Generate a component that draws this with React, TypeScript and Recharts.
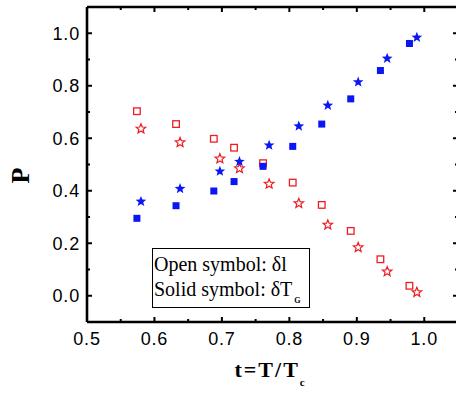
import React from 'react';
import { ScatterChart, Scatter, XAxis, YAxis, Legend } from 'recharts';

// reduced temperature t = T/Tc
const tSquare = [0.574, 0.632, 0.688, 0.718, 0.761, 0.805, 0.848, 0.891, 0.935, 0.978];
const tStar = [0.58, 0.638, 0.697, 0.726, 0.77, 0.814, 0.857, 0.902, 0.945, 0.989];
// open symbols (delta l), red
const pOpenSquare = [0.703, 0.654, 0.598, 0.564, 0.505, 0.431, 0.346, 0.247, 0.139, 0.038];
const pOpenStar = [0.636, 0.584, 0.522, 0.485, 0.426, 0.352, 0.27, 0.184, 0.092, 0.013];
// solid symbols (delta T_G), blue
const pSolidSquare = [0.295, 0.343, 0.399, 0.435, 0.493, 0.569, 0.654, 0.75, 0.858, 0.961];
const pSolidStar = [0.359, 0.408, 0.474, 0.511, 0.573, 0.646, 0.725, 0.814, 0.904, 0.984];

const xTickLabels = [0.5, 0.6, 0.7, 0.8, 0.9, 1.0];
const yTickLabels = [0.0, 0.2, 0.4, 0.6, 0.8, 1.0];
const xTickMarks = [0.55, 0.6, 0.65, 0.7, 0.75, 0.8, 0.85, 0.9, 0.95, 1.0];
const yTickMarks = [0.0, 0.1, 0.2, 0.3, 0.4, 0.5, 0.6, 0.7, 0.8, 0.9, 1.0];

const toPoints = (ts: number[], ps: number[]) => ts.map((t, i) => ({ t, p: ps[i] }));

const RED = '#ee1c24';
const BLUE = '#0b16f5';

function starPath(cx: number, cy: number, R: number, r: number) {
  let d = '';
  for (let i = 0; i < 10; i++) {
    const rad = i % 2 === 0 ? R : r;
    const a = -Math.PI / 2 + (i * Math.PI) / 5;
    d += (i === 0 ? 'M' : 'L') + (cx + rad * Math.cos(a)).toFixed(2) + ',' + (cy + rad * Math.sin(a)).toFixed(2);
  }
  return d + 'Z';
}

const OpenSquare = (props: any) => (
  <rect x={props.cx - 3.3} y={props.cy - 3.3} width={6.6} height={6.6} fill="none" stroke={RED} strokeWidth={1.3} />
);
const SolidSquare = (props: any) => (
  <rect x={props.cx - 3.5} y={props.cy - 3.5} width={7} height={7} fill={BLUE} />
);
const OpenStar = (props: any) => (
  <path d={starPath(props.cx, props.cy, 5, 2.2)} fill="none" stroke={RED} strokeWidth={1.2} />
);
const SolidStar = (props: any) => (
  <path d={starPath(props.cx, props.cy, 5.6, 2.4)} fill={BLUE} />
);

const isMajorX = (v: number) => Math.round(v * 100) % 10 === 0;
const isMajorY = (v: number) => Math.round(v * 100) % 20 === 0;

const makeTick = (side: 'top' | 'bottom' | 'left' | 'right') => (props: any) => {
  const { x, y, payload } = props;
  const v = payload.value;
  const major = side === 'top' || side === 'bottom' ? isMajorX(v) : isMajorY(v);
  const len = major ? 5 : 3;
  let x2 = x, y2 = y;
  if (side === 'bottom') y2 = y - len;
  if (side === 'top') y2 = y + len;
  if (side === 'left') x2 = x + len;
  if (side === 'right') x2 = x - len;
  return <line x1={x} y1={y} x2={x2} y2={y2} stroke="#000" strokeWidth={2} />;
};

const tickFont = { fontFamily: '"Liberation Sans", Arial, sans-serif', fontSize: 18, fill: '#000', letterSpacing: 0.8 };
const axisLineStyle = { stroke: '#000', strokeWidth: 2.6 };

const XLabel = (props: any) => {
  const vb = props.viewBox;
  return (
    <text
      x={vb.x + vb.width / 2 - 38}
      y={vb.y + 55}
      textAnchor="start"
      style={{ fontFamily: '"Liberation Serif", "Times New Roman", serif', fontWeight: 'bold', fontSize: 22, letterSpacing: 2 }}
      fill="#000"
    >
      t=T/T<tspan fontSize={11} dy={9}>c</tspan>
    </text>
  );
};

const YLabel = (props: any) => {
  const vb = props.viewBox;
  const cx = vb.x + 20;
  const cy = vb.y + vb.height / 2 + 11;
  return (
    <text
      x={cx}
      y={cy}
      transform={`rotate(-90, ${cx}, ${cy})`}
      textAnchor="middle"
      dominantBaseline="central"
      style={{ fontFamily: '"Liberation Serif", "Times New Roman", serif', fontWeight: 'bold', fontSize: 26 }}
      fill="#000"
    >
      P
    </text>
  );
};

const LegendBox = () => (
  <div
    style={{
      boxSizing: 'border-box',
      width: 158,
      height: 60,
      border: '1.3px solid #000',
      padding: '3px 0 0 1px',
      fontFamily: '"Liberation Serif", "Times New Roman", serif',
      fontSize: 20,
      lineHeight: '25px',
      color: '#000',
      background: '#fff',
      whiteSpace: 'nowrap',
    }}
  >
    <div>Open symbol: δl</div>
    <div>
      Solid symbol: δT<span style={{ fontSize: 8, position: 'relative', top: 7, left: 2, fontWeight: 'bold' }}>G</span>
    </div>
  </div>
);

export default function App() {
  return (
    <div style={{ position: 'absolute', left: 0, top: 0, width: 456, height: 393, overflow: 'hidden', background: '#fff' }}>
      <ScatterChart width={460} height={393} margin={{ top: 7, right: 2, bottom: 0, left: 0 }}>
        <XAxis
          xAxisId={0}
          type="number"
          dataKey="t"
          domain={[0.5, 1.05]}
          allowDataOverflow
          ticks={xTickLabels}
          interval={0}
          height={71}
          tickLine={false}
          tickSize={0}
          tickMargin={10}
          tick={tickFont}
          tickFormatter={(v: number) => v.toFixed(1)}
          axisLine={axisLineStyle}
          label={<XLabel />}
        />
        <XAxis
          xAxisId="bm"
          type="number"
          dataKey="t"
          orientation="bottom"
          mirror
          domain={[0.5, 1.05]}
          allowDataOverflow
          ticks={xTickMarks}
          interval={0}
          tickLine={false}
          tickSize={0}
          tickMargin={0}
          axisLine={false}
          tick={makeTick('bottom')}
        />
        <XAxis
          xAxisId="top"
          type="number"
          dataKey="t"
          orientation="top"
          mirror
          domain={[0.5, 1.05]}
          allowDataOverflow
          ticks={xTickMarks}
          interval={0}
          tickLine={false}
          tickSize={0}
          tickMargin={0}
          axisLine={axisLineStyle}
          tick={makeTick('top')}
        />
        <YAxis
          yAxisId={0}
          type="number"
          dataKey="p"
          domain={[-0.1, 1.1]}
          allowDataOverflow
          ticks={yTickLabels}
          interval={0}
          width={87}
          tickLine={false}
          tickSize={0}
          tickMargin={7}
          tick={tickFont}
          tickFormatter={(v: number) => v.toFixed(1)}
          axisLine={axisLineStyle}
          label={<YLabel />}
        />
        <YAxis
          yAxisId="lm"
          type="number"
          dataKey="p"
          orientation="left"
          mirror
          domain={[-0.1, 1.1]}
          allowDataOverflow
          ticks={yTickMarks}
          interval={0}
          tickLine={false}
          tickSize={0}
          tickMargin={0}
          axisLine={false}
          tick={makeTick('left')}
        />
        <YAxis
          yAxisId="right"
          type="number"
          dataKey="p"
          orientation="right"
          mirror
          domain={[-0.1, 1.1]}
          allowDataOverflow
          ticks={yTickMarks}
          interval={0}
          tickLine={false}
          tickSize={0}
          tickMargin={0}
          axisLine={axisLineStyle}
          tick={makeTick('right')}
        />
        <Legend
          content={<LegendBox />}
          layout="horizontal"
          verticalAlign="middle"
          align="center"
          wrapperStyle={{ left: 152, top: 248, width: 158, height: 60 }}
        />
        <Scatter name="open square" data={toPoints(tSquare, pOpenSquare)} shape={OpenSquare} isAnimationActive={false} />
        <Scatter name="open star" data={toPoints(tStar, pOpenStar)} shape={OpenStar} isAnimationActive={false} />
        <Scatter name="solid square" data={toPoints(tSquare, pSolidSquare)} shape={SolidSquare} isAnimationActive={false} />
        <Scatter name="solid star" data={toPoints(tStar, pSolidStar)} shape={SolidStar} isAnimationActive={false} />
      </ScatterChart>
    </div>
  );
}
